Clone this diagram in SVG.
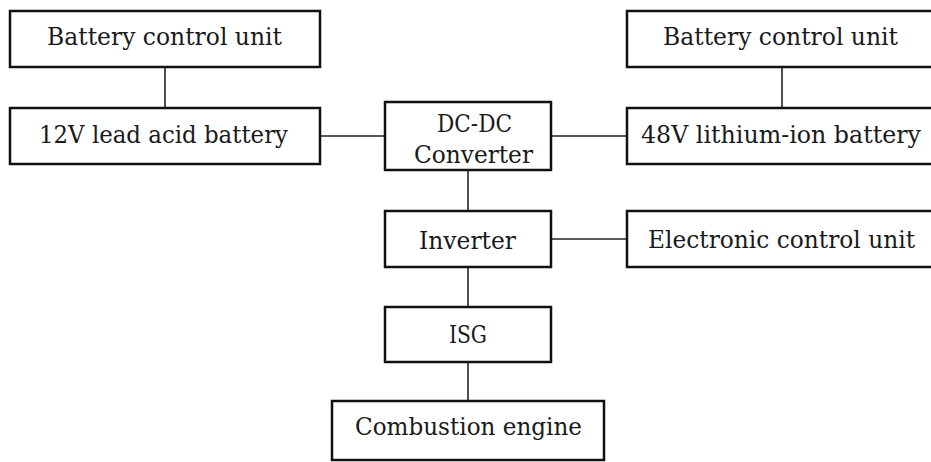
<svg xmlns="http://www.w3.org/2000/svg" width="931" height="462" viewBox="0 0 931 462">
<style>
.box{fill:#fff;stroke:#111;stroke-width:2.5}
.lbl{font-family:"DejaVu Serif","Liberation Serif",serif;font-size:23.5px;fill:#1a1a1a}
.con{stroke:#222;stroke-width:1.6;fill:none}
</style>
<rect width="931" height="462" fill="#fff"/>
<g id="connectors">
<line class="con" x1="165" y1="68" x2="165" y2="107"/>
<line class="con" x1="321" y1="136" x2="384" y2="136"/>
<line class="con" x1="552" y1="136" x2="626" y2="136"/>
<line class="con" x1="782" y1="68" x2="782" y2="107"/>
<line class="con" x1="468" y1="171" x2="468" y2="210"/>
<line class="con" x1="552" y1="239" x2="626" y2="239"/>
<line class="con" x1="468" y1="268" x2="468" y2="306"/>
<line class="con" x1="468" y1="363" x2="468" y2="400"/>
</g>
<g id="bcu-left">
<rect class="box" x="10" y="11" width="310" height="56"/>
<text class="lbl" x="47" y="45" textLength="235" lengthAdjust="spacingAndGlyphs">Battery control unit</text>
</g>
<g id="battery-12v">
<rect class="box" x="10" y="108" width="310" height="56"/>
<text class="lbl" x="39" y="143" textLength="249" lengthAdjust="spacingAndGlyphs">12V lead acid battery</text>
</g>
<g id="dcdc">
<rect class="box" x="385" y="102" width="166" height="68"/>
<text class="lbl" x="437" y="132" textLength="75" lengthAdjust="spacingAndGlyphs">DC-DC</text>
<text class="lbl" x="414" y="163" textLength="119" lengthAdjust="spacingAndGlyphs">Converter</text>
</g>
<g id="bcu-right">
<rect class="box" x="627" y="11" width="320" height="56"/>
<text class="lbl" x="663" y="45" textLength="235" lengthAdjust="spacingAndGlyphs">Battery control unit</text>
</g>
<g id="battery-48v">
<rect class="box" x="627" y="108" width="320" height="56"/>
<text class="lbl" x="641" y="143" textLength="280" lengthAdjust="spacingAndGlyphs">48V lithium-ion battery</text>
</g>
<g id="inverter">
<rect class="box" x="385" y="211" width="166" height="56"/>
<text class="lbl" x="419" y="249" textLength="97" lengthAdjust="spacingAndGlyphs">Inverter</text>
</g>
<g id="ecu">
<rect class="box" x="627" y="211" width="320" height="56"/>
<text class="lbl" x="648" y="248" textLength="267" lengthAdjust="spacingAndGlyphs">Electronic control unit</text>
</g>
<g id="isg">
<rect class="box" x="385" y="307" width="166" height="55"/>
<text class="lbl" x="449" y="343" textLength="38" lengthAdjust="spacingAndGlyphs">ISG</text>
</g>
<g id="engine">
<rect class="box" x="332" y="401" width="272" height="59"/>
<text class="lbl" x="355" y="435" textLength="227" lengthAdjust="spacingAndGlyphs">Combustion engine</text>
</g>
</svg>
